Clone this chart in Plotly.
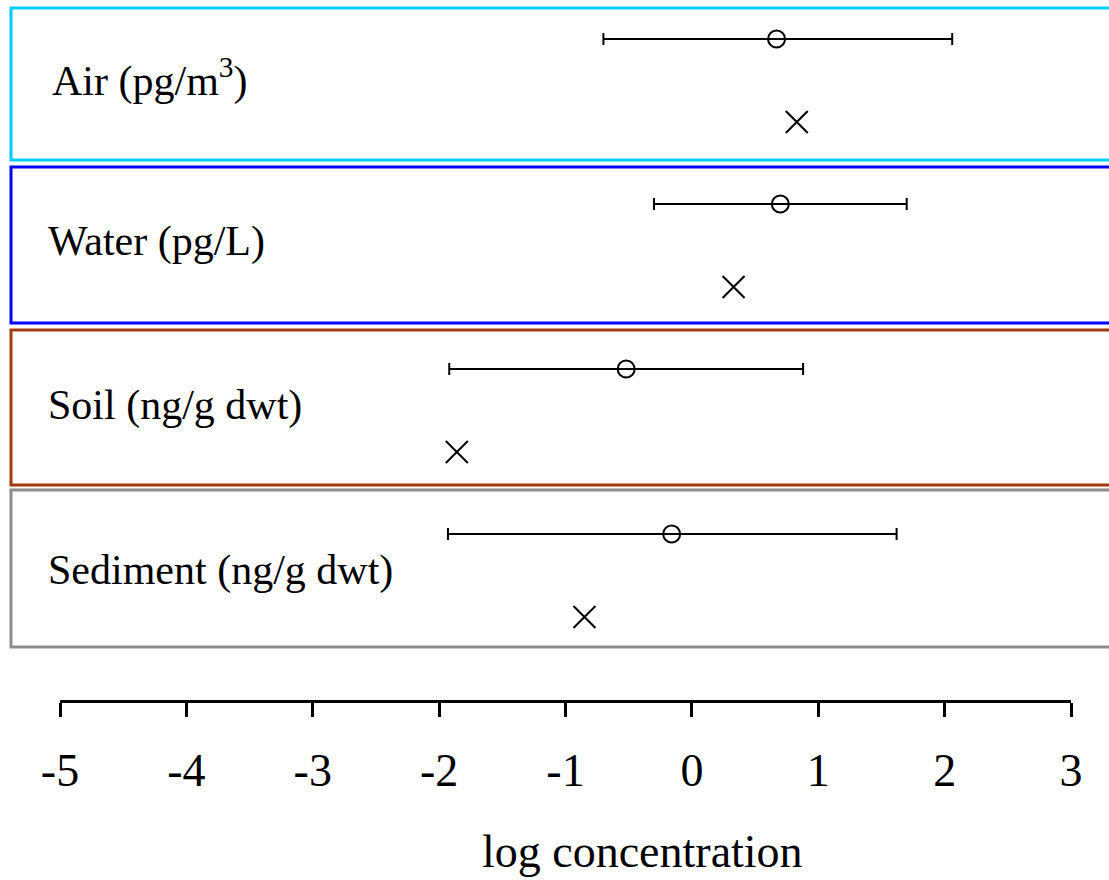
import plotly.graph_objects as go

# ---- data ----
compartments = ["Air (pg/m<sup>3</sup>)", "Water (pg/L)", "Soil (ng/g dwt)", "Sediment (ng/g dwt)"]
mean_values = [0.67, 0.70, -0.52, -0.16]
ci_low = [-0.70, -0.30, -1.92, -1.93]
ci_high = [2.06, 1.70, 0.88, 1.62]
x_values = [0.83, 0.33, -1.86, -0.85]
panel_colors = ["#00CCFF", "#0000FF", "#A23B0C", "#8C8C8C"]
tick_vals = [-5, -4, -3, -2, -1, 0, 1, 2, 3]
tick_text = ["-5", "-4", "-3", "-2", "-1", "0", "1", "2", "3"]

# ---- layout geometry (pixels) ----
W, H = 1109, 880
ML, MR, MT, MB = 60, 38, 0, 180
plot_w = W - ML - MR
PLOT_H = H - MT - MB
Y0_PX, ROW_PX = 39, 165          # pixel of first circle row, row spacing
box_top_px = [8, 167, 330, 490]
box_bot_px = [160, 323, 485, 647]
label_px = [78, 241, 405, 570]
label_left_px = [50, 46, 46, 46]

def py(p):
    return (p - Y0_PX) / ROW_PX

def px_to_paper(px):
    return (px - ML) / plot_w

idx = list(range(len(compartments)))
x_off = (122 - Y0_PX) / ROW_PX

fig = go.Figure()

fig.add_trace(go.Scatter(
    x=mean_values,
    y=idx,
    mode="markers",
    marker=dict(symbol="circle-open", size=17, color="black", line=dict(width=2, color="black")),
    error_x=dict(type="data", symmetric=False,
                 array=[h - m for h, m in zip(ci_high, mean_values)],
                 arrayminus=[m - l for m, l in zip(mean_values, ci_low)],
                 color="black", thickness=2, width=6),
    showlegend=False, hoverinfo="skip",
))

fig.add_trace(go.Scatter(
    x=x_values,
    y=[i + x_off for i in idx],
    mode="markers",
    marker=dict(symbol="x-thin-open", size=22, color="black", line=dict(width=2, color="black")),
    showlegend=False, hoverinfo="skip",
))

for i, (lab, col) in enumerate(zip(compartments, panel_colors)):
    fig.add_shape(type="rect", xref="paper", yref="y",
                  x0=px_to_paper(11), x1=px_to_paper(1120),
                  y0=py(box_top_px[i]), y1=py(box_bot_px[i]),
                  line=dict(color=col, width=3), fillcolor="rgba(0,0,0,0)", layer="below")
    fig.add_annotation(x=px_to_paper(label_left_px[i]), xref="paper", y=py(label_px[i]), yref="y",
                       text=lab, showarrow=False, xanchor="left", yanchor="middle",
                       font=dict(family="Liberation Serif", size=42, color="black"))

# axis title as annotation (offset to the right as in the reference)
fig.add_annotation(x=px_to_paper(642), xref="paper", y=-(851 - PLOT_H) / PLOT_H, yref="paper",
                   text="log concentration", showarrow=False, xanchor="center", yanchor="middle",
                   font=dict(family="Liberation Serif", size=46, color="black"))

fig.update_layout(
    width=W, height=H,
    margin=dict(l=ML, r=MR, t=MT, b=MB, pad=0),
    paper_bgcolor="white", plot_bgcolor="white",
    xaxis=dict(range=[-5, 3], tickvals=tick_vals, ticktext=tick_text,
               showline=True, linecolor="black", linewidth=3,
               ticks="outside", ticklen=14, tickwidth=3, tickcolor="black",
               showgrid=False, zeroline=False, ticklabelstandoff=14,
               tickfont=dict(family="Liberation Serif", size=46, color="black")),
    yaxis=dict(range=[py(PLOT_H), py(0)], visible=False, showgrid=False, zeroline=False),
)

fig.write_html("out.html")
